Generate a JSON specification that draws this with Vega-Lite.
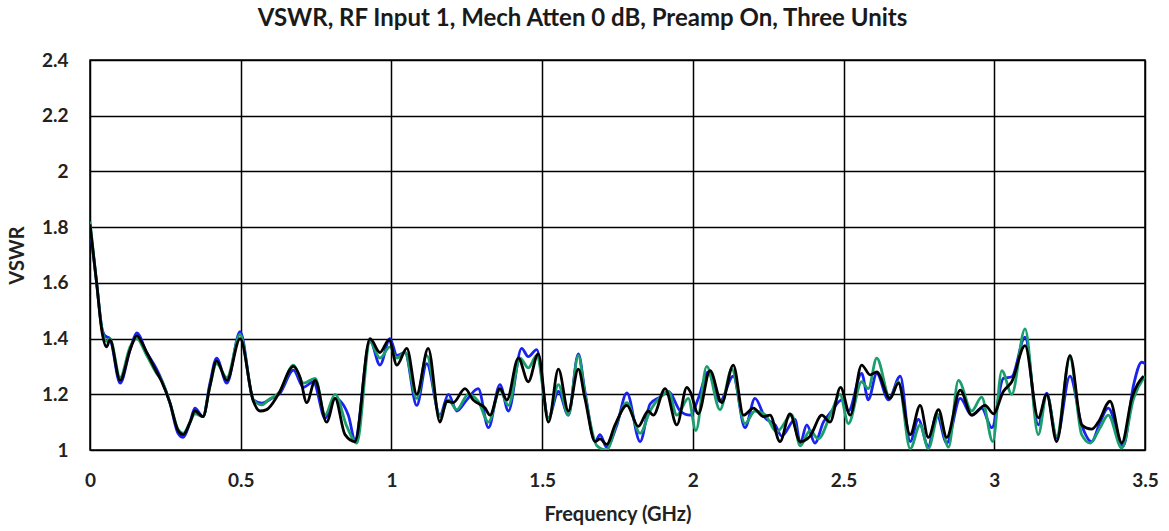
{
  "$schema": "https://vega.github.io/schema/vega-lite/v6.json",
  "width": 1055,
  "height": 390,
  "autosize": {"type": "none"},
  "padding": {"left": 90, "top": 60, "right": 24, "bottom": 81},
  "background": "white",
  "title": {"text": "VSWR, RF Input 1, Mech Atten 0 dB, Preamp On, Three Units", "font": "Lato", "fontSize": 24, "fontWeight": "bold", "color": "#1a1a1a", "anchor": "middle", "frame": "group", "dx": -35, "offset": 20},
  "datasets": {
    "blue": [
      {"f":0,"v":1.80},{"f":0.022,"v":1.60},{"f":0.039,"v":1.44},{"f":0.050,"v":1.41},{"f":0.066,"v":1.40},{"f":0.100,"v":1.24},{"f":0.133,"v":1.36},{"f":0.155,"v":1.42},{"f":0.188,"v":1.35},{"f":0.221,"v":1.29},{"f":0.238,"v":1.25},{"f":0.265,"v":1.17},{"f":0.292,"v":1.06},{"f":0.309,"v":1.045},{"f":0.332,"v":1.10},{"f":0.348,"v":1.15},{"f":0.375,"v":1.12},{"f":0.398,"v":1.24},{"f":0.420,"v":1.33},{"f":0.454,"v":1.24},{"f":0.498,"v":1.425},{"f":0.542,"v":1.18},{"f":0.570,"v":1.168},{"f":0.603,"v":1.186},{"f":0.630,"v":1.204},{"f":0.675,"v":1.287},{"f":0.708,"v":1.225},{"f":0.741,"v":1.245},{"f":0.780,"v":1.114},{"f":0.813,"v":1.185},{"f":0.857,"v":1.125},{"f":0.879,"v":1.037},{"f":0.929,"v":1.394},{"f":0.962,"v":1.305},{"f":0.995,"v":1.40},{"f":1.018,"v":1.34},{"f":1.045,"v":1.35},{"f":1.084,"v":1.16},{"f":1.117,"v":1.31},{"f":1.161,"v":1.125},{"f":1.189,"v":1.20},{"f":1.217,"v":1.14},{"f":1.250,"v":1.18},{"f":1.288,"v":1.22},{"f":1.322,"v":1.08},{"f":1.360,"v":1.235},{"f":1.388,"v":1.14},{"f":1.432,"v":1.365},{"f":1.454,"v":1.335},{"f":1.482,"v":1.36},{"f":1.521,"v":1.115},{"f":1.554,"v":1.21},{"f":1.587,"v":1.125},{"f":1.620,"v":1.345},{"f":1.642,"v":1.21},{"f":1.676,"v":1.03},{"f":1.692,"v":1.055},{"f":1.714,"v":1.01},{"f":1.748,"v":1.09},{"f":1.781,"v":1.205},{"f":1.825,"v":1.03},{"f":1.858,"v":1.165},{"f":1.891,"v":1.19},{"f":1.919,"v":1.21},{"f":1.958,"v":1.14},{"f":1.991,"v":1.125},{"f":2.018,"v":1.185},{"f":2.051,"v":1.28},{"f":2.090,"v":1.175},{"f":2.134,"v":1.265},{"f":2.173,"v":1.08},{"f":2.206,"v":1.185},{"f":2.240,"v":1.115},{"f":2.273,"v":1.09},{"f":2.295,"v":1.05},{"f":2.339,"v":1.11},{"f":2.356,"v":1.025},{"f":2.378,"v":1.09},{"f":2.405,"v":1.025},{"f":2.433,"v":1.10},{"f":2.461,"v":1.14},{"f":2.494,"v":1.18},{"f":2.516,"v":1.14},{"f":2.560,"v":1.275},{"f":2.582,"v":1.18},{"f":2.610,"v":1.275},{"f":2.649,"v":1.18},{"f":2.688,"v":1.265},{"f":2.721,"v":1.03},{"f":2.748,"v":1.11},{"f":2.781,"v":1.013},{"f":2.809,"v":1.13},{"f":2.842,"v":1.025},{"f":2.887,"v":1.185},{"f":2.925,"v":1.125},{"f":2.958,"v":1.15},{"f":2.992,"v":1.08},{"f":3.030,"v":1.257},{"f":3.058,"v":1.263},{"f":3.102,"v":1.405},{"f":3.146,"v":1.09},{"f":3.174,"v":1.204},{"f":3.207,"v":1.043},{"f":3.251,"v":1.265},{"f":3.290,"v":1.09},{"f":3.323,"v":1.03},{"f":3.351,"v":1.10},{"f":3.378,"v":1.15},{"f":3.428,"v":1.015},{"f":3.462,"v":1.233},{"f":3.489,"v":1.315},{"f":3.500,"v":1.31}
    ],
    "green": [
      {"f":0,"v":1.82},{"f":0.022,"v":1.60},{"f":0.039,"v":1.44},{"f":0.055,"v":1.39},{"f":0.066,"v":1.40},{"f":0.100,"v":1.26},{"f":0.133,"v":1.37},{"f":0.155,"v":1.40},{"f":0.188,"v":1.34},{"f":0.221,"v":1.275},{"f":0.238,"v":1.25},{"f":0.265,"v":1.17},{"f":0.292,"v":1.075},{"f":0.309,"v":1.06},{"f":0.332,"v":1.10},{"f":0.348,"v":1.13},{"f":0.375,"v":1.12},{"f":0.398,"v":1.23},{"f":0.420,"v":1.31},{"f":0.454,"v":1.26},{"f":0.498,"v":1.415},{"f":0.542,"v":1.18},{"f":0.570,"v":1.162},{"f":0.592,"v":1.18},{"f":0.630,"v":1.21},{"f":0.675,"v":1.305},{"f":0.708,"v":1.24},{"f":0.747,"v":1.257},{"f":0.780,"v":1.126},{"f":0.813,"v":1.20},{"f":0.852,"v":1.085},{"f":0.885,"v":1.025},{"f":0.929,"v":1.388},{"f":0.962,"v":1.33},{"f":0.995,"v":1.37},{"f":1.018,"v":1.33},{"f":1.045,"v":1.35},{"f":1.084,"v":1.185},{"f":1.117,"v":1.34},{"f":1.161,"v":1.12},{"f":1.189,"v":1.18},{"f":1.217,"v":1.145},{"f":1.255,"v":1.20},{"f":1.288,"v":1.175},{"f":1.322,"v":1.10},{"f":1.360,"v":1.215},{"f":1.388,"v":1.16},{"f":1.427,"v":1.33},{"f":1.454,"v":1.295},{"f":1.482,"v":1.34},{"f":1.521,"v":1.115},{"f":1.554,"v":1.235},{"f":1.587,"v":1.125},{"f":1.620,"v":1.34},{"f":1.642,"v":1.20},{"f":1.682,"v":1.015},{"f":1.714,"v":1.00},{"f":1.748,"v":1.10},{"f":1.781,"v":1.17},{"f":1.825,"v":1.06},{"f":1.858,"v":1.14},{"f":1.897,"v":1.195},{"f":1.919,"v":1.21},{"f":1.947,"v":1.125},{"f":1.985,"v":1.185},{"f":2.010,"v":1.07},{"f":2.046,"v":1.30},{"f":2.090,"v":1.145},{"f":2.129,"v":1.29},{"f":2.173,"v":1.095},{"f":2.206,"v":1.14},{"f":2.240,"v":1.126},{"f":2.278,"v":1.065},{"f":2.328,"v":1.126},{"f":2.356,"v":1.015},{"f":2.389,"v":1.07},{"f":2.416,"v":1.04},{"f":2.461,"v":1.14},{"f":2.488,"v":1.20},{"f":2.516,"v":1.095},{"f":2.560,"v":1.245},{"f":2.582,"v":1.22},{"f":2.610,"v":1.33},{"f":2.654,"v":1.185},{"f":2.682,"v":1.245},{"f":2.721,"v":1.005},{"f":2.754,"v":1.09},{"f":2.781,"v":1.005},{"f":2.815,"v":1.126},{"f":2.848,"v":1.01},{"f":2.881,"v":1.25},{"f":2.925,"v":1.14},{"f":2.958,"v":1.19},{"f":2.995,"v":1.03},{"f":3.025,"v":1.285},{"f":3.058,"v":1.20},{"f":3.102,"v":1.435},{"f":3.146,"v":1.055},{"f":3.174,"v":1.20},{"f":3.207,"v":1.05},{"f":3.251,"v":1.33},{"f":3.290,"v":1.055},{"f":3.318,"v":1.025},{"f":3.351,"v":1.08},{"f":3.378,"v":1.125},{"f":3.423,"v":1.007},{"f":3.462,"v":1.185},{"f":3.500,"v":1.265}
    ],
    "black": [
      {"f":0,"v":1.81},{"f":0.022,"v":1.60},{"f":0.039,"v":1.43},{"f":0.055,"v":1.37},{"f":0.066,"v":1.395},{"f":0.100,"v":1.25},{"f":0.133,"v":1.36},{"f":0.155,"v":1.41},{"f":0.188,"v":1.35},{"f":0.221,"v":1.28},{"f":0.238,"v":1.245},{"f":0.265,"v":1.17},{"f":0.292,"v":1.07},{"f":0.309,"v":1.055},{"f":0.332,"v":1.10},{"f":0.348,"v":1.14},{"f":0.375,"v":1.12},{"f":0.398,"v":1.23},{"f":0.420,"v":1.32},{"f":0.454,"v":1.25},{"f":0.498,"v":1.40},{"f":0.542,"v":1.175},{"f":0.564,"v":1.14},{"f":0.586,"v":1.145},{"f":0.625,"v":1.20},{"f":0.675,"v":1.30},{"f":0.697,"v":1.26},{"f":0.719,"v":1.17},{"f":0.747,"v":1.25},{"f":0.785,"v":1.10},{"f":0.813,"v":1.185},{"f":0.846,"v":1.055},{"f":0.879,"v":1.03},{"f":0.929,"v":1.40},{"f":0.962,"v":1.35},{"f":0.992,"v":1.395},{"f":1.018,"v":1.305},{"f":1.051,"v":1.365},{"f":1.084,"v":1.20},{"f":1.122,"v":1.365},{"f":1.161,"v":1.10},{"f":1.183,"v":1.175},{"f":1.205,"v":1.17},{"f":1.244,"v":1.22},{"f":1.271,"v":1.18},{"f":1.311,"v":1.15},{"f":1.327,"v":1.125},{"f":1.360,"v":1.22},{"f":1.383,"v":1.18},{"f":1.421,"v":1.33},{"f":1.454,"v":1.245},{"f":1.487,"v":1.345},{"f":1.521,"v":1.10},{"f":1.554,"v":1.29},{"f":1.587,"v":1.14},{"f":1.620,"v":1.29},{"f":1.642,"v":1.185},{"f":1.676,"v":1.03},{"f":1.692,"v":1.04},{"f":1.714,"v":1.02},{"f":1.742,"v":1.09},{"f":1.781,"v":1.16},{"f":1.819,"v":1.085},{"f":1.852,"v":1.14},{"f":1.869,"v":1.125},{"f":1.908,"v":1.22},{"f":1.947,"v":1.09},{"f":1.980,"v":1.225},{"f":1.991,"v":1.21},{"f":2.018,"v":1.13},{"f":2.057,"v":1.285},{"f":2.096,"v":1.17},{"f":2.134,"v":1.305},{"f":2.168,"v":1.125},{"f":2.201,"v":1.15},{"f":2.234,"v":1.12},{"f":2.256,"v":1.125},{"f":2.289,"v":1.03},{"f":2.322,"v":1.13},{"f":2.356,"v":1.03},{"f":2.389,"v":1.05},{"f":2.428,"v":1.125},{"f":2.455,"v":1.10},{"f":2.490,"v":1.225},{"f":2.522,"v":1.125},{"f":2.560,"v":1.305},{"f":2.588,"v":1.27},{"f":2.610,"v":1.28},{"f":2.654,"v":1.185},{"f":2.682,"v":1.24},{"f":2.721,"v":1.055},{"f":2.754,"v":1.16},{"f":2.781,"v":1.045},{"f":2.815,"v":1.145},{"f":2.842,"v":1.045},{"f":2.887,"v":1.215},{"f":2.925,"v":1.125},{"f":2.970,"v":1.16},{"f":2.997,"v":1.13},{"f":3.030,"v":1.21},{"f":3.058,"v":1.245},{"f":3.102,"v":1.375},{"f":3.146,"v":1.115},{"f":3.174,"v":1.20},{"f":3.207,"v":1.03},{"f":3.251,"v":1.34},{"f":3.290,"v":1.09},{"f":3.323,"v":1.075},{"f":3.345,"v":1.10},{"f":3.384,"v":1.175},{"f":3.423,"v":1.025},{"f":3.456,"v":1.185},{"f":3.495,"v":1.265}
    ]
  },
  "encoding": {
    "x": {"field": "f", "type": "quantitative", "scale": {"domain": [0, 3.5], "nice": false, "zero": false},
      "axis": {"values": [0, 0.5, 1, 1.5, 2, 2.5, 3, 3.5], "format": "~g", "title": "Frequency (GHz)", "labelPadding": 21, "titlePadding": 14, "labelFlush": false}},
    "y": {"field": "v", "type": "quantitative", "scale": {"domain": [1, 2.4], "nice": false, "zero": false},
      "axis": {"values": [1, 1.2, 1.4, 1.6, 1.8, 2, 2.2, 2.4], "format": "~g", "title": "VSWR", "labelPadding": 22, "titlePadding": 14, "labelFlush": false}}
  },
  "layer": [
    {"data": {"name": "blue"}, "mark": {"type": "line", "interpolate": "monotone", "color": "#1a22f0", "strokeWidth": 2.8, "clip": true}},
    {"data": {"name": "green"}, "mark": {"type": "line", "interpolate": "monotone", "color": "#1b9e6e", "strokeWidth": 2.8, "clip": true}},
    {"data": {"name": "black"}, "mark": {"type": "line", "interpolate": "monotone", "color": "#000000", "strokeWidth": 2.8, "clip": true}}
  ],
  "config": {
    "view": {"stroke": "black", "strokeWidth": 1.5},
    "axis": {"grid": true, "gridColor": "black", "gridWidth": 1.5, "gridOpacity": 1, "domain": false, "ticks": false,
      "labelFont": "Lato", "labelFontSize": 19, "labelFontWeight": "bold", "labelColor": "#222222",
      "titleFont": "Lato", "titleFontSize": 20, "titleFontWeight": "bold", "titleColor": "#222222"}
  }
}
